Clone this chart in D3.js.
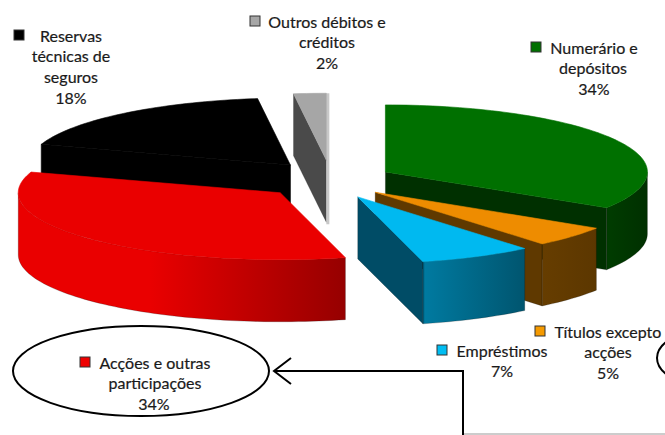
<!DOCTYPE html>
<html><head><meta charset="utf-8">
<script src="https://cdn.jsdelivr.net/npm/d3@7"></script>
<style>html,body{margin:0;padding:0;background:#fff}svg{display:block}text{font-family:Lato,"Open Sans",sans-serif;font-size:16px;fill:#1a1a1a;stroke:#1a1a1a;stroke-width:.2px;text-anchor:middle;dominant-baseline:central}</style>
</head><body><svg id="c" width="665" height="435"></svg>
<script>
const categories = ["Numerário e depósitos","Títulos excepto acções","Empréstimos","Acções e outras participações","Reservas técnicas de seguros","Outros débitos e créditos"];
const values = [34,5,7,34,18,2];
const topColors = ["#007000","#ee8c00","#00b9f0","#ea0000","#000000","#a6a6a6"];
const sideFrom = ["#003c00","#663d00","#007aa0","#ea0000","#000000","#4a4a4a"];
const sideTo = ["#003000","#5c3700","#00556f","#960000","#000000","#4a4a4a"];
const cutColors = ["#003000","#5f3900","#004c66","#960000","#000000","#4a4a4a"];
const swatchColors = ["#007000","#f59a00","#00bdf2","#ee0000","#000000","#a6a6a6"];
const labelLines = [["Numerário e","depósitos","34%"],["Títulos excepto","acções","5%"],["Empréstimos","7%"],["Acções e outras","participações","34%"],["Reservas","técnicas de","seguros","18%"],["Outros débitos e","créditos","2%"]];
const labelX = [[594,593,594],[608,608,608],[502,502],[155,155,154],[71,71,71,71],[327,327,327]];
const labelY = [47,331,350,362,35,21];
const swatchX = [536,540,442,85,19,255];
const lineGap = 20.7;
const explodeX = [.25,.24,.25,.25,.225,.1];
const explodeY = [.22,.3,.3,.3,.27,.28];

const cx=328, cy=179, rx=262, ry=67, depth=62;
const svg=d3.select("#c");
const defs=svg.append("defs");
const DEG=Math.PI/180;
const px=d3.scaleLinear().domain([-1,1]).range([-rx,rx]);
const py=d3.scaleLinear().domain([-1,1]).range([-ry,ry]);
const arcs=d3.pie().sort(null).value(d=>d)(values).map((d,i)=>{
  const mid=(d.startAngle+d.endAngle)/2;
  return {a0:d.startAngle,a1:d.endAngle,mid,i,
    ax:cx+explodeX[i]*px(Math.sin(mid)),
    ay:cy+explodeY[i]*py(-Math.cos(mid))};
});
const line=d3.line().curve(d3.curveLinearClosed);
const ptAt=(s,t,dz=0)=>[s.ax+px(Math.sin(t)),s.ay+py(-Math.cos(t))+dz];
const sample=(a,b)=>{const n=Math.max(2,Math.ceil((b-a)/(1.5*DEG)));return d3.range(n+1).map(k=>a+(b-a)*k/n);};
const order=arcs.slice().sort((p,q)=>(-Math.cos(p.mid))-(-Math.cos(q.mid)));
const g=svg.append("g");
order.forEach(s=>{
  const i=s.i;
  const solid=topColors[i]==="#000000";
  const faceEdge=el=>el.attr("stroke",solid?"#000":"#000").attr("stroke-opacity",solid?1:.35).attr("stroke-width",.6);
  const cut=t=>{
    const o=ptAt(s,t);
    faceEdge(g.append("path").attr("d",line([[s.ax,s.ay],o,[o[0],o[1]+depth],[s.ax,s.ay+depth]]))
     .attr("fill",cutColors[i]));
  };
  if(Math.cos(s.a1+Math.PI/2)<-1e-6) cut(s.a1);
  if(Math.cos(s.a0-Math.PI/2)<-1e-6) cut(s.a0);
  if(s.a1>=2*Math.PI-1e-6){
    const o=ptAt(s,s.a1);
    g.append("path").attr("d",line([[o[0],o[1]],[o[0]+3,o[1]],[o[0]+3,s.ay+depth+2],[o[0],s.ay+depth+2]]))
     .attr("fill","#c8c8c8");
  }
  const lo=Math.max(s.a0,Math.PI/2), hi=Math.min(s.a1,3*Math.PI/2);
  if(hi>lo){
    const ts=sample(lo,hi);
    const upper=ts.map(t=>ptAt(s,t));
    const lower=ts.slice().reverse().map(t=>ptAt(s,t,depth));
    const xs=upper.map(p=>p[0]);
    const id="side"+i;
    const gr=defs.append("linearGradient").attr("id",id).attr("gradientUnits","userSpaceOnUse")
      .attr("x1",d3.min(xs)).attr("x2",d3.max(xs)).attr("y1",0).attr("y2",0);
    const fromLeft = i===3 ? [sideFrom[i],sideFrom[i],sideTo[i]] : [sideTo[i],sideFrom[i],sideTo[i]];
    const stops = i===3 ? [0,.4,1] : [0,.02,1];
    stops.forEach((o,k)=>gr.append("stop").attr("offset",o).attr("stop-color",fromLeft[k]));
    faceEdge(g.append("path").attr("d",line(upper.concat(lower))).attr("fill",`url(#${id})`));
  }
  const rim=sample(s.a0,s.a1).map(t=>ptAt(s,t));
  g.append("path").attr("d",line([[s.ax,s.ay]].concat(rim))).attr("fill",topColors[i])
    .attr("stroke",topColors[i]).attr("stroke-width",.6);
});

categories.forEach((c,i)=>{
  const lines=labelLines[i];
  lines.forEach((t,k)=>{
    svg.append("text").attr("x",labelX[i][k]).attr("y",labelY[i]+k*lineGap).text(t);
  });
  svg.append("rect").attr("x",swatchX[i]-5).attr("y",labelY[i]-5).attr("width",10).attr("height",10)
    .attr("fill",swatchColors[i]).attr("stroke","#333").attr("stroke-width",1);
});

svg.append("ellipse").attr("cx",141).attr("cy",371).attr("rx",128).attr("ry",45)
  .attr("fill","none").attr("stroke","#000").attr("stroke-width",2);
svg.append("ellipse").attr("cx",717).attr("cy",358).attr("rx",60).attr("ry",30)
  .attr("fill","none").attr("stroke","#000").attr("stroke-width",2);
svg.append("path").attr("d","M463 435V371H274M291 358L274 371L291 384")
  .attr("fill","none").attr("stroke","#000").attr("stroke-width",2);
svg.append("path").attr("d","M464 434H665").attr("stroke","#bbb").attr("stroke-width",1.5);
</script></body></html>
